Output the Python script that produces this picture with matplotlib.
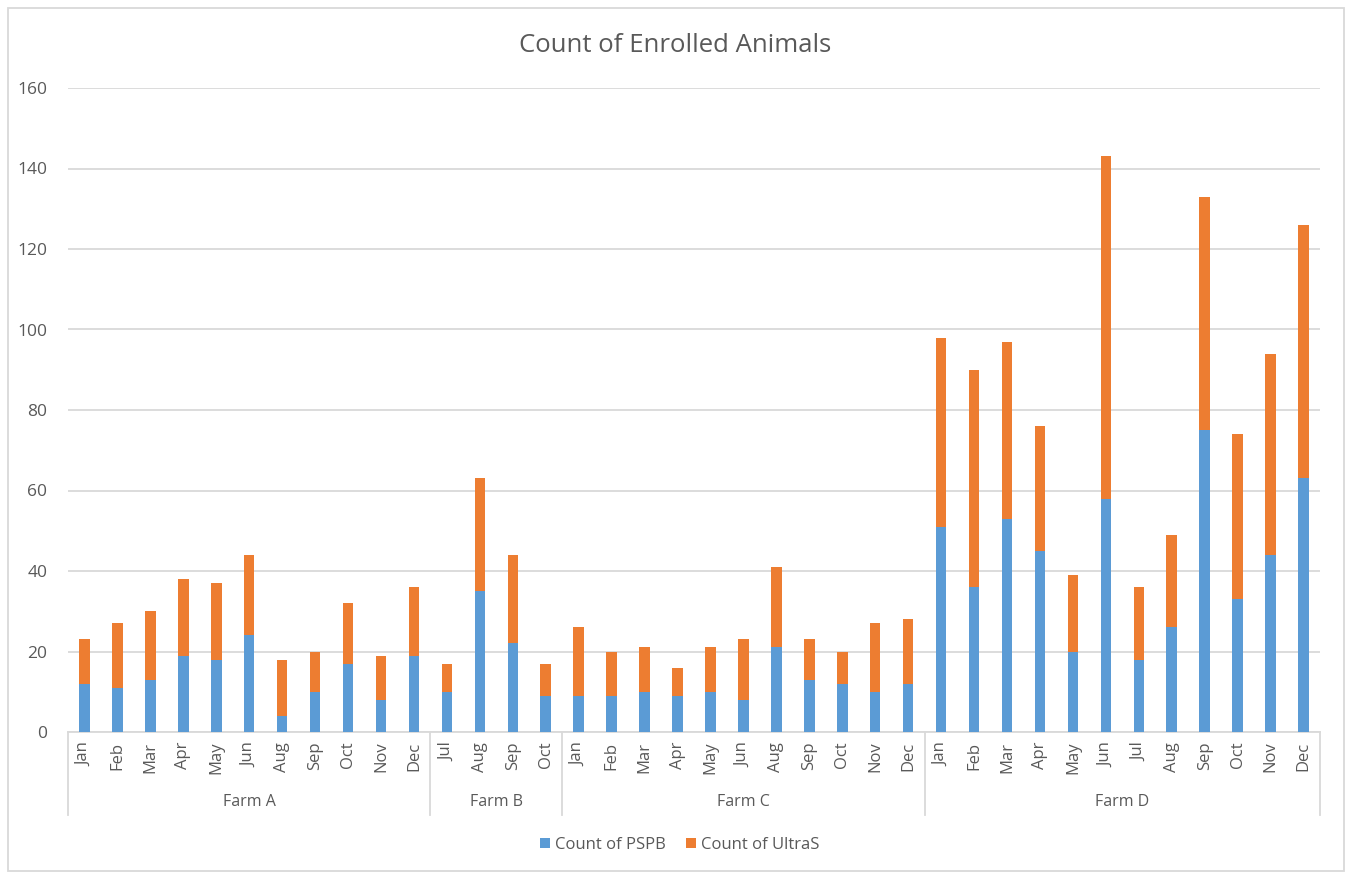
import matplotlib
matplotlib.use("Agg")
import matplotlib.pyplot as plt
from matplotlib.patches import Rectangle
from matplotlib.lines import Line2D
import numpy as np

# Farms and the months recorded for each
farms = ["Farm A", "Farm B", "Farm C", "Farm D"]
months_a = ["Jan", "Feb", "Mar", "Apr", "May", "Jun", "Aug", "Sep", "Oct", "Nov", "Dec"]
months_b = ["Jul", "Aug", "Sep", "Oct"]
months_c = ["Jan", "Feb", "Mar", "Apr", "May", "Jun", "Aug", "Sep", "Oct", "Nov", "Dec"]
months_d = ["Jan", "Feb", "Mar", "Apr", "May", "Jun", "Jul", "Aug", "Sep", "Oct", "Nov", "Dec"]

# Count of PSPB per month
pspb_a = [12, 11, 13, 19, 18, 24, 4, 10, 17, 8, 19]
pspb_b = [10, 35, 22, 9]
pspb_c = [9, 9, 10, 9, 10, 8, 21, 13, 12, 10, 12]
pspb_d = [51, 36, 53, 45, 20, 58, 18, 26, 75, 33, 44, 63]

# Count of UltraS per month
ultras_a = [11, 16, 17, 19, 19, 20, 14, 10, 15, 11, 17]
ultras_b = [7, 28, 22, 8]
ultras_c = [17, 11, 11, 7, 11, 15, 20, 10, 8, 17, 16]
ultras_d = [47, 54, 44, 31, 19, 85, 18, 23, 58, 41, 50, 63]

month_groups = [months_a, months_b, months_c, months_d]
pspb = np.array(pspb_a + pspb_b + pspb_c + pspb_d)
ultras = np.array(ultras_a + ultras_b + ultras_c + ultras_d)
labels = months_a + months_b + months_c + months_d
x = np.arange(len(labels))

BLUE = "#5B9BD5"
ORANGE = "#ED7D31"
GRID = "#D9D9D9"
TEXT = "#595959"
FONT = "Open Sans"

W, H = 1351, 873
fig = plt.figure(figsize=(W / 100, H / 100), dpi=100)
fig.patch.set_facecolor("white")

L, R, T, B = 68, 1320, 88, 732
ax = fig.add_axes([L / W, 1 - B / H, (R - L) / W, (B - T) / H])

bw = 0.32
ax.bar(x, pspb, width=bw, color=BLUE, label="Count of PSPB", zorder=3)
ax.bar(x, ultras, width=bw, bottom=pspb, color=ORANGE, label="Count of UltraS", zorder=3)

ax.set_xlim(-0.5, len(labels) - 0.5)
ax.set_ylim(0, 160)
ax.set_yticks(np.arange(0, 161, 20))
ax.yaxis.grid(True, color=GRID, linewidth=1.3, zorder=0)
ax.set_axisbelow(True)
for s in ["top", "right", "left"]:
    ax.spines[s].set_visible(False)
ax.spines["bottom"].set_color(GRID)
ax.spines["bottom"].set_linewidth(1.3)
ax.tick_params(axis="y", length=0, pad=15, labelcolor=TEXT, labelsize=12.5)
for t in ax.get_yticklabels():
    t.set_fontfamily(FONT)

ax.set_xticks(x)
ax.set_xticklabels(labels, rotation=90, fontsize=12, color=TEXT, fontfamily=FONT)
ax.tick_params(axis="x", length=0, pad=7)

# Group separators and farm labels under the month labels
sep_depth = -(815 - B) / (B - T)
bounds = [-0.5]
for g in month_groups:
    bounds.append(bounds[-1] + len(g))
trans = ax.get_xaxis_transform()
for b in bounds:
    ax.add_line(Line2D([b, b], [0, sep_depth], transform=trans, color=GRID,
                       linewidth=1.3, clip_on=False))
for i, farm in enumerate(farms):
    mid = (bounds[i] + bounds[i + 1]) / 2
    ax.text(mid, -(802 - B) / (B - T), farm, transform=trans, ha="center", va="center",
            fontsize=11.5, color=TEXT, fontfamily=FONT)

fig.text(0.5, 1 - 45 / H, "Count of Enrolled Animals", ha="center",
         va="center", fontsize=18.5, color=TEXT, fontfamily=FONT)

leg = fig.legend(loc="center", bbox_to_anchor=(680 / W, 1 - 845 / H), ncol=2, frameon=False,
                 handlelength=0.6, handleheight=0.6, handletextpad=0.3,
                 columnspacing=1.2, prop={"family": FONT, "size": 12})
for t in leg.get_texts():
    t.set_color(TEXT)

# Outer chart border
fig.add_artist(Rectangle((8 / W, 1 - 871 / H), (1344 - 8) / W, (871 - 8) / H,
                         transform=fig.transFigure, fill=False, edgecolor=GRID, linewidth=1.3))

fig.savefig("out.png", dpi=100, facecolor="white")
